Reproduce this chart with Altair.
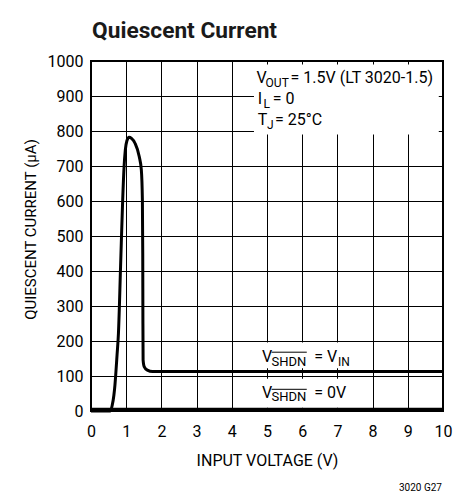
import altair as alt
import pandas as pd

# ---- data ----
# V_SHDN = V_IN curve (input voltage V, quiescent current uA)
vin_v = [0.0, 0.55, 0.60, 0.65, 0.68, 0.70, 0.74, 0.78, 0.84, 0.90, 0.94, 0.975, 1.02, 1.08,
         1.15, 1.25, 1.37, 1.43, 1.46, 1.47, 1.475, 1.48, 1.51, 1.60, 1.75, 2.5, 10.0]
vin_i = [0, 0, 15, 45, 74, 100, 160, 223, 412, 603, 698, 746, 772, 782,
         779, 765, 727, 689, 603, 450, 250, 146, 127, 117, 113, 113, 113]
# V_SHDN = 0V curve
off_v = [0.0, 10.0]
off_i = [5, 5]

x_ticks = [0, 1, 2, 3, 4, 5, 6, 7, 8, 9, 10]
y_ticks = [0, 100, 200, 300, 400, 500, 600, 700, 800, 900, 1000]

# annotation pieces (x in V, baseline y in uA)
ann_text = ["V", "OUT", "= 1.5V (LT 3020-1.5)", "I", "L", "= 0", "T", "J", "= 25°C",
            "V", "SHDN", "= V", "IN", "V", "SHDN", "= 0V"]
ann_x = [4.70, 4.96, 5.67, 4.74, 4.90, 5.16, 4.74, 5.00, 5.23,
         4.86, 5.13, 6.34, 7.02, 4.86, 5.13, 6.34]
ann_y = [937, 925, 937, 877, 866, 877, 817, 806, 817,
         140, 130, 140, 130, 37, 29, 37]
ann_size = [16, 12, 16, 16, 12, 16, 16, 12, 16,
            16, 13, 16, 12, 16, 13, 16]

# white label backgrounds
box_x = [4.63, 4.66, 4.66]
box_x2 = [9.88, 7.75, 7.75]
box_y = [790, 122, 9]
box_y2 = [990, 196, 92]

# overlines on SHDN
ol_x = [5.13, 5.13]
ol_x2 = [6.13, 6.13]
ol_y = [168, 62]

curve_df = pd.DataFrame({"v": vin_v, "i": vin_i})
off_df = pd.DataFrame({"v": off_v, "i": off_i})
ann_df = pd.DataFrame({"v": ann_x, "i": ann_y, "t": ann_text, "s": ann_size})
box_df = pd.DataFrame({"v": box_x, "v2": box_x2, "i": box_y, "i2": box_y2})
ol_df = pd.DataFrame({"v": ol_x, "v2": ol_x2, "i": ol_y})
title_df = pd.DataFrame({"v": [0.03], "i": [1066], "t": ["Quiescent Current"]})
foot_df = pd.DataFrame({"v": [9.97], "i": [-229], "t": ["3020 G27"]})

FONT = "Roboto"

xs = alt.Scale(domain=[0, 10], nice=False)
ys = alt.Scale(domain=[0, 1000], nice=False)
xaxis = alt.Axis(values=x_ticks, title="INPUT VOLTAGE (V)", grid=True, domain=False,
                 ticks=False, labelPadding=12, labelFontSize=16, titleFontSize=16,
                 titlePadding=13, titleFontWeight="normal", labelFont=FONT, titleFont=FONT,
                 labelColor="black", titleColor="black", gridColor="black",
                 gridOpacity=1, gridWidth=1, labelFlush=False, format="d")
yaxis = alt.Axis(values=y_ticks, title="QUIESCENT CURRENT (µA)", grid=True, domain=False,
                 ticks=False, labelPadding=8, labelFontSize=16, titleFontSize=15,
                 titlePadding=9, titleY=168, titleFontWeight="normal", labelFont=FONT,
                 titleFont=FONT, labelColor="black", titleColor="black", gridColor="black",
                 gridOpacity=1, gridWidth=1, labelFlush=False, format="d")

X = alt.X("v:Q", scale=xs, axis=xaxis)
Y = alt.Y("i:Q", scale=ys, axis=yaxis)

boxes = alt.Chart(box_df).mark_rect(color="white").encode(x=X, x2="v2:Q", y=Y, y2="i2:Q")
off_line = alt.Chart(off_df).mark_line(color="black", strokeWidth=3).encode(x=X, y=Y)
curve = alt.Chart(curve_df).mark_line(color="black", strokeWidth=3, interpolate="monotone",
                                      strokeJoin="round").encode(x=X, y=Y)
ann = alt.Chart(ann_df).mark_text(align="left", baseline="alphabetic", font=FONT,
                                  color="black").encode(
    x=X, y=Y, text="t:N", size=alt.Size("s:Q", scale=None, legend=None))
ol = alt.Chart(ol_df).mark_rule(color="black", strokeWidth=1).encode(x=X, x2="v2:Q", y=Y)
title = alt.Chart(title_df).mark_text(align="left", baseline="alphabetic",
                                      font="Roboto", fontWeight="bold",
                                      fontSize=22.7, color="#1a1a1a").encode(x=X, y=Y, text="t:N")
foot = alt.Chart(foot_df).mark_text(align="right", baseline="alphabetic", font=FONT,
                                    fontSize=10, color="black").encode(x=X, y=Y, text="t:N")

chart = alt.layer(boxes, off_line, curve, ann, ol, title, foot).properties(
    width=352, height=350,
    autosize=alt.AutoSizeParams(type="none"),
    padding={"left": 83, "top": 53, "right": 18, "bottom": 81},
).configure_view(stroke="black", strokeWidth=2)

chart.save("out.html", embed_options={"renderer": "svg", "actions": False})
